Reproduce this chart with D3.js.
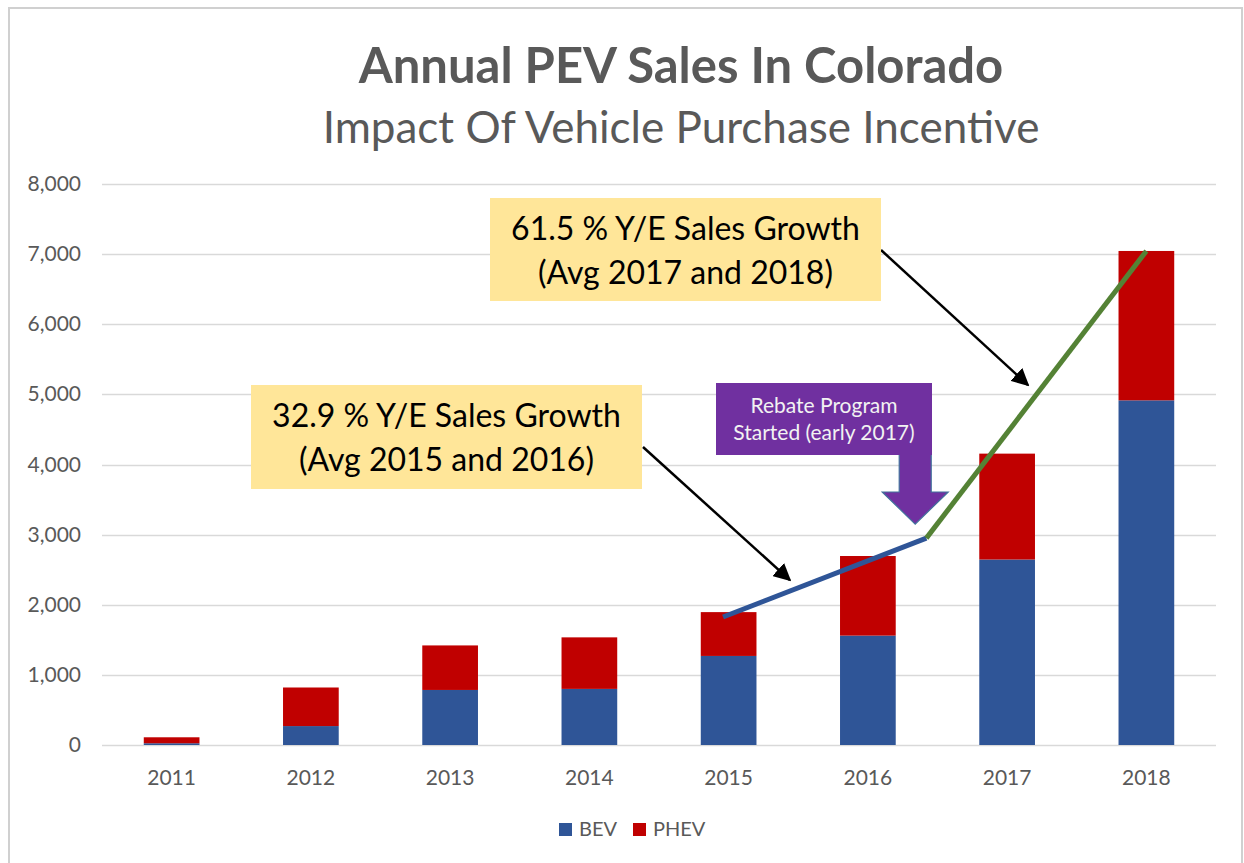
<!DOCTYPE html>
<html>
<head>
<meta charset="utf-8">
<script src="https://cdn.jsdelivr.net/npm/d3@7"></script>
<style>
  html, body { margin: 0; padding: 0; background: #fff; }
  svg { display: block; font-family: Lato, "Open Sans", sans-serif; }
</style>
</head>
<body>
<div id="chart"></div>
<script>
// data
const years = ["2011", "2012", "2013", "2014", "2015", "2016", "2017", "2018"];
const bev = [25, 270, 785, 800, 1270, 1560, 2645, 4915];
const phev = [85, 550, 635, 735, 625, 1135, 1510, 2130];
const yTicks = [0, 1000, 2000, 3000, 4000, 5000, 6000, 7000, 8000];
// trend lines: [year index (fractional), value]
const trendBefore = [[3.96, 1825], [5.42, 2950]];
const trendAfter = [[5.42, 2950], [7.0, 7045]];

const COLORS = {
    text: "#595959",
    grid: "#D9D9D9",
    bev: "#2F5597",
    phev: "#C00000",
    trendBefore: "#2F5597",
    trendAfter: "#548235",
    note: "#FFE699",
    purple: "#7030A0"
};

const width = 1244, height = 863;

const svg = d3.select("#chart")
    .append("svg")
    .attr("width", width)
    .attr("height", height);

svg.append("rect")
    .attr("width", width).attr("height", height)
    .attr("fill", "#fff");

// chart border
svg.append("rect")
    .attr("x", 9).attr("y", 8)
    .attr("width", 1233).attr("height", 870)
    .attr("fill", "none")
    .attr("stroke", "#D0D0D0")
    .attr("stroke-width", 2);

// titles
svg.append("text")
    .attr("x", 681).attr("y", 83)
    .attr("text-anchor", "middle")
    .attr("fill", COLORS.text)
    .style("font-size", "49px")
    .style("font-weight", "bold")
    .text("Annual PEV Sales In Colorado");

svg.append("text")
    .attr("x", 681).attr("y", 143)
    .attr("text-anchor", "middle")
    .attr("fill", COLORS.text)
    .style("font-size", "44px")
    .text("Impact Of Vehicle Purchase Incentive");

// scales
const x = d3.scaleBand()
    .domain(years)
    .range([102, 1216])
    .paddingInner(0.6)
    .paddingOuter(0.3);

const y = d3.scaleLinear()
    .domain([0, 8000])
    .range([745, 184]);

const xIdx = d3.scaleLinear()
    .domain([0, years.length - 1])
    .range([x(years[0]) + x.bandwidth() / 2, x(years[years.length - 1]) + x.bandwidth() / 2]);

// gridlines
svg.append("g")
    .selectAll("line")
    .data(yTicks)
    .join("line")
    .attr("x1", 102).attr("x2", 1216)
    .attr("y1", d => Math.round(y(d)) + 0.5)
    .attr("y2", d => Math.round(y(d)) + 0.5)
    .attr("stroke", COLORS.grid)
    .attr("stroke-width", 1.5);

// y axis labels
svg.append("g")
    .selectAll("text")
    .data(yTicks)
    .join("text")
    .attr("x", 81)
    .attr("y", d => y(d) + 7)
    .attr("text-anchor", "end")
    .attr("fill", COLORS.text)
    .style("font-size", "21px")
    .text(d => d3.format(",")(d));

// x axis labels
svg.append("g")
    .selectAll("text")
    .data(years)
    .join("text")
    .attr("x", d => x(d) + x.bandwidth() / 2)
    .attr("y", 785)
    .attr("text-anchor", "middle")
    .attr("fill", COLORS.text)
    .style("font-size", "21px")
    .text(d => d);

// stacked bars
const table = years.map((yr, i) => ({ year: yr, BEV: bev[i], PHEV: phev[i] }));
const stack = d3.stack().keys(["BEV", "PHEV"])(table);

svg.append("g")
    .selectAll("g")
    .data(stack)
    .join("g")
    .attr("fill", d => d.key === "BEV" ? COLORS.bev : COLORS.phev)
    .selectAll("rect")
    .data(d => d)
    .join("rect")
    .attr("x", d => x(d.data.year))
    .attr("width", x.bandwidth())
    .attr("y", d => y(d[1]))
    .attr("height", d => y(d[0]) - y(d[1]));

// trend lines
const line = d3.line()
    .x(d => xIdx(d[0]))
    .y(d => y(d[1]));

svg.append("path")
    .datum(trendBefore)
    .attr("d", line)
    .attr("fill", "none")
    .attr("stroke", COLORS.trendBefore)
    .attr("stroke-width", 5);

svg.append("path")
    .datum(trendAfter)
    .attr("d", line)
    .attr("fill", "none")
    .attr("stroke", COLORS.trendAfter)
    .attr("stroke-width", 5);

// arrow marker
svg.append("defs").append("marker")
    .attr("id", "head")
    .attr("viewBox", "0 0 10 10")
    .attr("refX", 9).attr("refY", 5)
    .attr("markerWidth", 7).attr("markerHeight", 7)
    .attr("markerUnits", "strokeWidth")
    .attr("orient", "auto")
    .append("path")
    .attr("d", "M0,0 L10,5 L0,10 z")
    .attr("fill", "#000");

// growth notes: box, two text lines, arrow to trend line
const notes = [
    { x: 251, y: 385, w: 391, h: 104, lines: ["32.9 % Y/E Sales Growth", "(Avg 2015 and 2016)"],
      from: [643, 447], tip: [4.44, 2352] },
    { x: 490, y: 198, w: 391, h: 103, lines: ["61.5 % Y/E Sales Growth", "(Avg 2017 and 2018)"],
      from: [881, 250], tip: [6.15, 5133] }
];

notes.forEach(n => {
    svg.append("line")
        .attr("x1", n.from[0]).attr("y1", n.from[1])
        .attr("x2", xIdx(n.tip[0])).attr("y2", y(n.tip[1]))
        .attr("stroke", "#000")
        .attr("stroke-width", 2.5)
        .attr("marker-end", "url(#head)");

    svg.append("rect")
        .attr("x", n.x).attr("y", n.y)
        .attr("width", n.w).attr("height", n.h)
        .attr("fill", COLORS.note);

    n.lines.forEach((t, i) => {
        svg.append("text")
            .attr("x", n.x + n.w / 2)
            .attr("y", n.y + 42 + i * 44)
            .attr("text-anchor", "middle")
            .attr("fill", "#000")
            .style("font-size", "32px")
            .text(t);
    });
});

// rebate callout
const tipX = xIdx(5.34), tipY = y(3150);
svg.append("path")
    .attr("d", `M${tipX - 16},452 L${tipX + 16},452 L${tipX + 16},492 L${tipX + 33},492
                L${tipX},${tipY} L${tipX - 33},492 L${tipX - 16},492 Z`)
    .attr("fill", COLORS.purple)
    .attr("stroke", "#41719C")
    .attr("stroke-width", 1.2);

svg.append("rect")
    .attr("x", 716).attr("y", 383)
    .attr("width", 216).attr("height", 72)
    .attr("fill", COLORS.purple);

["Rebate Program", "Started (early 2017)"].forEach((t, i) => {
    svg.append("text")
        .attr("x", 824)
        .attr("y", 413 + i * 27)
        .attr("text-anchor", "middle")
        .attr("fill", "#F2F2F2")
        .style("font-size", "21px")
        .text(t);
});

// legend
const legend = svg.append("g")
    .selectAll("g")
    .data([{ k: "BEV", c: COLORS.bev, x: 559 }, { k: "PHEV", c: COLORS.phev, x: 633 }])
    .join("g");

legend.append("rect")
    .attr("x", d => d.x).attr("y", 823)
    .attr("width", 13).attr("height", 13)
    .attr("fill", d => d.c);

legend.append("text")
    .attr("x", d => d.x + 20).attr("y", 836)
    .attr("fill", COLORS.text)
    .style("font-size", "20px")
    .text(d => d.k);
</script>
</body>
</html>
